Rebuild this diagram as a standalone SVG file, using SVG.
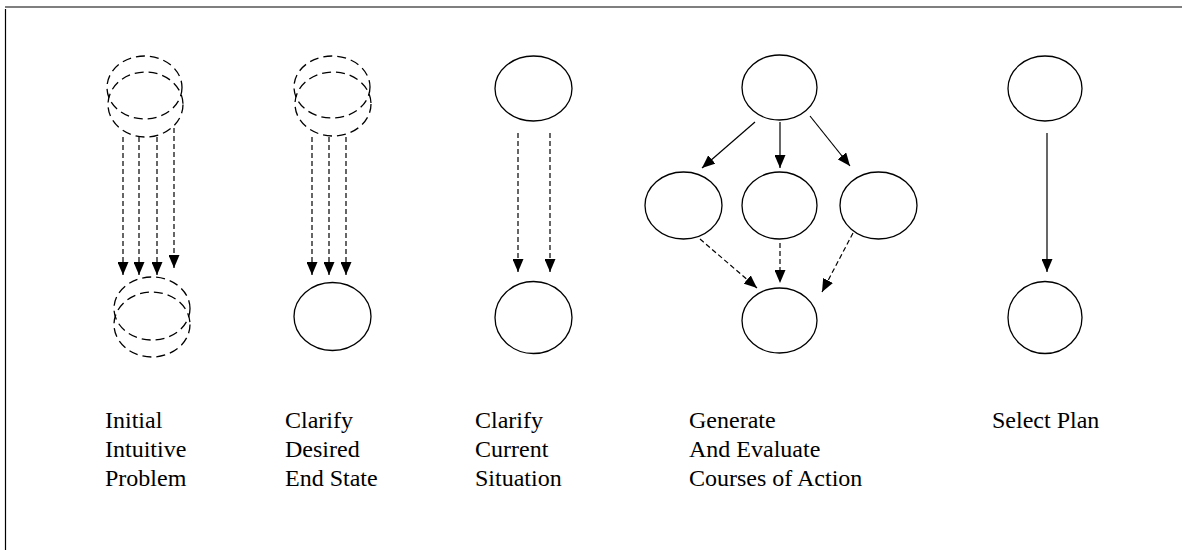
<svg xmlns="http://www.w3.org/2000/svg" width="1182" height="550" viewBox="0 0 1182 550">
  <style>
    .node { fill: none; stroke: #000; stroke-width: 1.3; }
    .dnode { fill: none; stroke: #000; stroke-width: 1.3; stroke-dasharray: 9 5; }
    .link { fill: none; stroke: #000; stroke-width: 1.2; }
    .dlink { fill: none; stroke: #000; stroke-width: 1.2; stroke-dasharray: 5 3; }
    .label { font-family: "Liberation Serif", "Times New Roman", serif; font-size: 24px; fill: #000; }
    .frame { stroke: #000; stroke-width: 1.2; fill: none; }
  </style>
  <defs>
    <marker id="arrow" markerUnits="userSpaceOnUse" markerWidth="13" markerHeight="11" refX="13" refY="5.5" orient="auto">
      <path d="M0,0 L13,5.5 L0,11 Z" fill="#000"/>
    </marker>
  </defs>

  <rect width="1182" height="550" fill="#fff"/>

  <!-- page frame: top and left edges only -->
  <path class="frame" d="M5.5,550 V9 M5,7 H1182"/>

  <!-- stage 1: initial intuitive problem -->
  <g id="initial-top">
    <ellipse class="dnode" cx="144.5" cy="87.5" rx="37.5" ry="31.5"/>
    <ellipse class="dnode" cx="145.5" cy="104.5" rx="37.5" ry="32.5"/>
  </g>
  <g id="initial-bottom">
    <ellipse class="dnode" cx="152" cy="308.5" rx="38" ry="31.5"/>
    <ellipse class="dnode" cx="152" cy="324.5" rx="38" ry="32.5"/>
  </g>

  <!-- stage 2: desired end state -->
  <g id="desired-top">
    <ellipse class="dnode" cx="332" cy="87" rx="38" ry="31"/>
    <ellipse class="dnode" cx="333" cy="104" rx="38" ry="32"/>
  </g>
  <g id="desired-bottom">
    <ellipse class="node" cx="332.5" cy="316.5" rx="38.5" ry="34"/>
  </g>

  <!-- stage 3: current situation -->
  <g id="current-top">
    <ellipse class="node" cx="533.5" cy="88.5" rx="38.5" ry="32.5"/>
  </g>
  <g id="current-bottom">
    <ellipse class="node" cx="533.5" cy="317.5" rx="38.5" ry="36"/>
  </g>

  <!-- stage 4: courses of action -->
  <g id="coa-top">
    <ellipse class="node" cx="779.5" cy="87.5" rx="37.5" ry="32.5"/>
  </g>
  <g id="coa-left">
    <ellipse class="node" cx="683.5" cy="205.5" rx="38.5" ry="33.5"/>
  </g>
  <g id="coa-middle">
    <ellipse class="node" cx="779.5" cy="205.5" rx="37.5" ry="33.5"/>
  </g>
  <g id="coa-right">
    <ellipse class="node" cx="878.5" cy="205.5" rx="38.5" ry="33.5"/>
  </g>
  <g id="coa-bottom">
    <ellipse class="node" cx="779.5" cy="320.5" rx="37.5" ry="32.5"/>
  </g>

  <!-- stage 5: select plan -->
  <g id="plan-top">
    <ellipse class="node" cx="1045" cy="88.5" rx="37" ry="32.5"/>
  </g>
  <g id="plan-bottom">
    <ellipse class="node" cx="1045" cy="317.5" rx="37" ry="36"/>
  </g>

  <!-- connectors -->
  <g id="connectors">
    <line class="dlink" x1="123" y1="137" x2="123" y2="275" marker-end="url(#arrow)"/>
    <line class="dlink" x1="139" y1="137" x2="139" y2="275" marker-end="url(#arrow)"/>
    <line class="dlink" x1="157" y1="137" x2="157" y2="275" marker-end="url(#arrow)"/>
    <line class="dlink" x1="174" y1="128" x2="174" y2="268" marker-end="url(#arrow)"/>

    <line class="dlink" x1="312" y1="137" x2="312" y2="275" marker-end="url(#arrow)"/>
    <line class="dlink" x1="329" y1="137" x2="329" y2="275" marker-end="url(#arrow)"/>
    <line class="dlink" x1="346" y1="137" x2="346" y2="275" marker-end="url(#arrow)"/>

    <line class="dlink" x1="518" y1="133" x2="518" y2="272" marker-end="url(#arrow)"/>
    <line class="dlink" x1="550" y1="133" x2="550" y2="272" marker-end="url(#arrow)"/>

    <line class="link" x1="755" y1="122" x2="702" y2="168" marker-end="url(#arrow)"/>
    <line class="link" x1="780" y1="122" x2="780" y2="168" marker-end="url(#arrow)"/>
    <line class="link" x1="810" y1="116" x2="850" y2="166" marker-end="url(#arrow)"/>
    <line class="dlink" x1="700" y1="239" x2="757" y2="288" marker-end="url(#arrow)"/>
    <line class="dlink" x1="780" y1="243" x2="780" y2="283" marker-end="url(#arrow)"/>
    <line class="dlink" x1="853" y1="233" x2="822" y2="292" marker-end="url(#arrow)"/>

    <line class="link" x1="1047" y1="133" x2="1047" y2="272" marker-end="url(#arrow)"/>
  </g>

  <!-- stage captions -->
  <g id="captions">
    <text class="label" x="105" y="428">Initial</text>
    <text class="label" x="105" y="457">Intuitive</text>
    <text class="label" x="105" y="486">Problem</text>

    <text class="label" x="285" y="428">Clarify</text>
    <text class="label" x="285" y="457">Desired</text>
    <text class="label" x="285" y="486">End State</text>

    <text class="label" x="475" y="428">Clarify</text>
    <text class="label" x="475" y="457">Current</text>
    <text class="label" x="475" y="486">Situation</text>

    <text class="label" x="689" y="428">Generate</text>
    <text class="label" x="689" y="457">And Evaluate</text>
    <text class="label" x="689" y="486">Courses of Action</text>

    <text class="label" x="992" y="428">Select Plan</text>
  </g>
</svg>
